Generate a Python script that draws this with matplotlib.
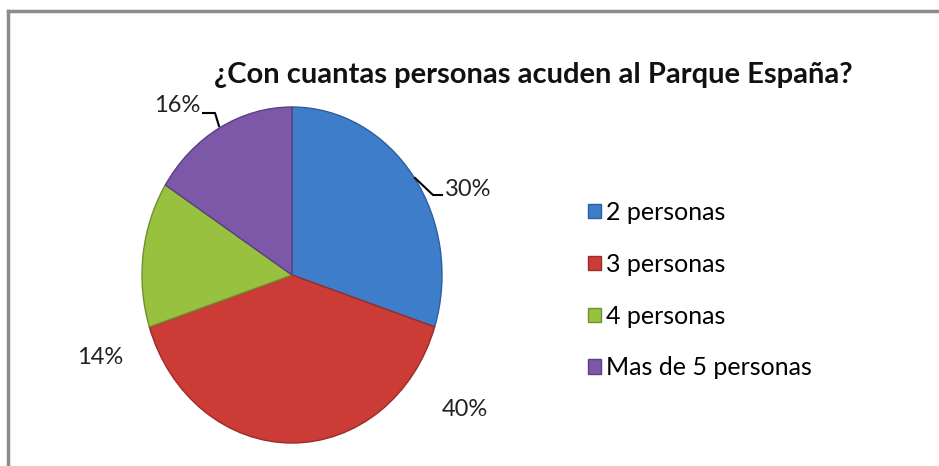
import matplotlib.pyplot as plt
from matplotlib.lines import Line2D

categorias = ['2 personas', '3 personas', '4 personas', 'Mas de 5 personas']
porcentajes = [30, 40, 14, 16]
etiquetas = ['30%', '40%', '14%', '16%']
colores = ['#3d7dca', '#cc3c37', '#97c13f', '#7d58a9']
bordes = ['#2b5f9e', '#9c2b27', '#6f9130', '#5b3f80']

plt.rcParams['font.family'] = ['Lato', 'DejaVu Sans']

fig = plt.figure(figsize=(9.39, 4.66), dpi=100)

# marco gris del grafico
fig.add_artist(Line2D([8 / 939, 8 / 939], [0, 1 - 11 / 466], color='#8c8c8c', lw=2.5))
fig.add_artist(Line2D([8 / 939, 1], [1 - 11 / 466, 1 - 11 / 466], color='#8c8c8c', lw=2.5))

# pie algo mas alto que ancho, como en la imagen
ax = fig.add_axes([142 / 939, 23 / 466, 300 / 939, 336 / 466])
wedges, _ = ax.pie(porcentajes, colors=colores, startangle=90, counterclock=False,
                   wedgeprops=dict(linewidth=1.0))
for w, c in zip(wedges, bordes):
    w.set_edgecolor(c)
ax.set_aspect('auto')
ax.set_xlim(-1, 1)
ax.set_ylim(-1, 1)
ax.axis('off')

def px(x, y):
    return x / 939, 1 - y / 466

# etiquetas de porcentaje
pos_etiquetas = [(468, 190), (465, 410), (100, 357), (177, 105)]
for txt, (x, y) in zip(etiquetas, pos_etiquetas):
    fig.text(*px(x, y), txt, ha='center', va='center', fontsize=17, color='#222222')

# lineas guia
for pts in [[(415, 178), (433, 195), (442, 195)], [(203, 113), (215, 113), (219, 126)]]:
    xs = [p[0] / 939 for p in pts]
    ys = [1 - p[1] / 466 for p in pts]
    fig.add_artist(Line2D(xs, ys, color='black', lw=1.5))

fig.text(*px(533, 75), '¿Con cuantas personas acuden al Parque España?',
         ha='center', va='center', fontsize=21, fontweight='bold', color='#111111')

# leyenda
handles = [plt.Rectangle((0, 0), 1, 1, facecolor=c, edgecolor=b) for c, b in zip(colores, bordes)]
fig.legend(handles, categorias, loc='upper left', bbox_to_anchor=(578 / 939, 1 - 191 / 466),
           frameon=False, fontsize=18, handlelength=0.5, handleheight=0.5,
           handletextpad=0.2, labelspacing=1.15, borderaxespad=0)

fig.savefig('out.png', dpi=100, facecolor='white')
